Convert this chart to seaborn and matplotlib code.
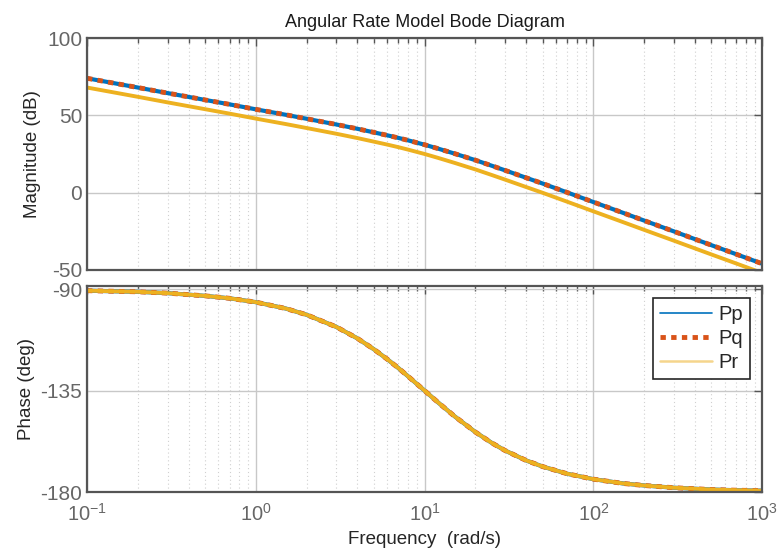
import pandas as pd
import matplotlib
matplotlib.use("Agg")
import matplotlib.pyplot as plt
import matplotlib.ticker as mticker
from matplotlib.lines import Line2D
import seaborn as sns

# frequency points (rad/s) and values
freq = [0.1, 0.15, 0.2, 0.3, 0.5, 0.7, 1, 1.5, 2, 3, 4, 5, 6, 7, 8, 10, 12, 15,
        20, 25, 30, 40, 50, 70, 100, 150, 200, 300, 500, 700, 1000]
mag_pp = [74.0, 70.5, 68.0, 64.4, 60.0, 57.1, 53.9, 50.4, 47.8, 44.1, 41.3, 39.0,
          37.1, 35.4, 33.8, 31.0, 28.5, 25.3, 21.0, 17.4, 14.4, 9.6, 5.9, 0.1,
          -6.1, -13.1, -18.1, -25.1, -34.0, -39.8, -46.0]
mag_pq = list(mag_pp)
mag_pr = [68.0, 64.5, 62.0, 58.4, 54.0, 51.1, 47.9, 44.4, 41.8, 38.1, 35.3, 33.0,
          31.1, 29.4, 27.8, 25.0, 22.5, 19.3, 15.0, 11.4, 8.4, 3.6, -0.1, -5.9,
          -12.1, -19.1, -24.1, -31.1, -40.0, -45.8, -52.0]
phase = [-90.6, -90.9, -91.1, -91.7, -92.9, -94.0, -95.7, -98.5, -101.3, -106.7,
         -111.8, -116.6, -121.0, -125.0, -128.7, -135.0, -140.2, -146.3, -153.4,
         -158.2, -161.6, -166.0, -168.7, -171.9, -174.3, -176.2, -177.1, -178.1,
         -178.9, -179.2, -179.4]
series = ["Pp", "Pq", "Pr"]
colors = {"Pp": "#0072BD", "Pq": "#D95319", "Pr": "#EDB120"}

df = pd.DataFrame({"freq": freq, "Pp": mag_pp, "Pq": mag_pq, "Pr": mag_pr})
ph = pd.DataFrame({"freq": freq, "Pp": phase, "Pq": phase, "Pr": phase})

sns.set_theme(style="white")
plt.rcParams["font.family"] = ["Liberation Sans", "DejaVu Sans"]
plt.rcParams["mathtext.default"] = "regular"
plt.rcParams["axes.unicode_minus"] = False

fig = plt.figure(figsize=(7.77, 5.6), dpi=100)
ax1 = fig.add_axes([0.112, 0.518, 0.869, 0.414])
ax2 = fig.add_axes([0.112, 0.1214, 0.869, 0.368])

styles = {
    "Pp": dict(lw=3.0, linestyle="-"),
    "Pq": dict(lw=3.5, linestyle=(0, (1.1, 1.1))),
    "Pr": dict(lw=2.8, linestyle="-"),
}

for ax, data in [(ax1, df), (ax2, ph)]:
    for s in series:
        sns.lineplot(data=data, x="freq", y=s, ax=ax, color=colors[s],
                     legend=False, solid_capstyle="butt", **styles[s])
    ax.set_xscale("log")
    ax.set_xlim(0.1, 1000)
    ax.xaxis.set_minor_locator(mticker.LogLocator(base=10, subs=range(2, 10)))
    ax.grid(True, which="major", color="#c8c8c8", lw=1.0)
    ax.grid(True, which="minor", axis="x", color="#d0d0d0", lw=0.8, linestyle=(0, (1, 2.5)))
    ax.tick_params(which="both", direction="in", top=True, right=True,
                   colors="#555555", labelcolor="#666666", labelsize=15)
    ax.tick_params(which="major", length=6, width=1.0)
    ax.tick_params(which="minor", length=3.5, width=1.0)
    ax.tick_params(axis="y", which="minor", left=False, right=False)
    for sp in ax.spines.values():
        sp.set_color("#555555")
        sp.set_linewidth(1.6)
    ax.set_xlabel("")

ax1.set_ylim(-50, 100)
ax1.set_yticks([-50, 0, 50, 100])
ax1.tick_params(labelbottom=False)
ax1.set_ylabel("Magnitude (dB)", fontsize=13.5, color="#262626")
ax1.set_title("Angular Rate Model Bode Diagram", fontsize=13, color="#1a1a1a", pad=8)

ax2.set_ylim(-180, -88.5)
ax2.set_yticks([-180, -135, -90])
ax2.xaxis.set_major_formatter(mticker.LogFormatterMathtext())
ax2.tick_params(axis="x", which="major", pad=8, labelsize=14.5)
ax2.set_ylabel("Phase (deg)", fontsize=13.5, color="#262626")
ax2.set_xlabel("Frequency  (rad/s)", fontsize=13.5, color="#262626")

handles = [
    Line2D([], [], color=colors["Pp"], lw=1.2),
    Line2D([], [], color=colors["Pq"], lw=3.5, linestyle=(0, (1.1, 1.1))),
    Line2D([], [], color="#F5D58C", lw=1.8),
]
leg = ax2.legend(handles, series, loc="upper right", fontsize=14.5, fancybox=False,
                 framealpha=1, edgecolor="#262626", borderaxespad=0.6,
                 handlelength=2.6, handletextpad=0.3, labelspacing=0.25,
                 borderpad=0.35)
leg.get_frame().set_linewidth(1.2)

fig.savefig("out.png", dpi=100)
